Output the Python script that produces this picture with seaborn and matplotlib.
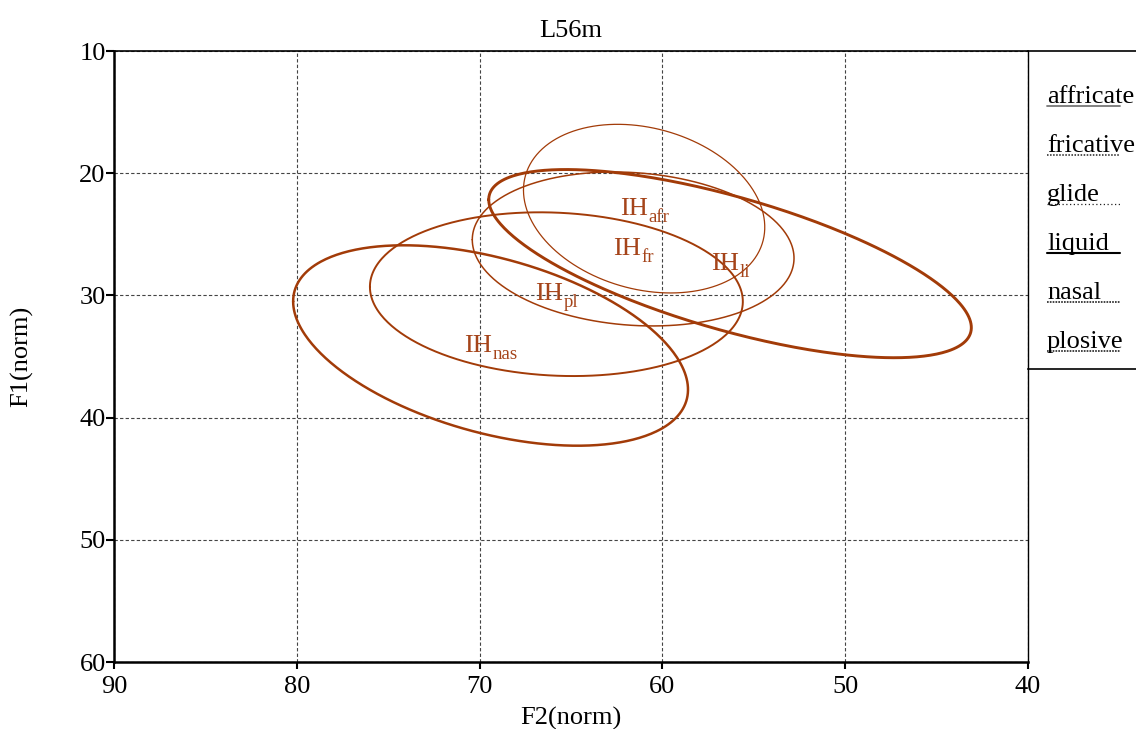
import numpy as np
import pandas as pd
import matplotlib
matplotlib.use("Agg")
import matplotlib.pyplot as plt
import matplotlib.transforms as mtransforms
import seaborn as sns

# ---------------- data ----------------
title = "L56m"
x_label = "F2(norm)"
y_label = "F1(norm)"
x_ticks = [90, 80, 70, 60, 50, 40]
y_ticks = [10, 20, 30, 40, 50, 60]

legend_categories = ["affricate", "fricative", "glide", "liquid", "nasal", "plosive"]

ellipse_codes = ["afr", "fr", "li", "nas", "pl"]
center_f2 = [61.0, 61.6, 56.3, 69.4, 65.8]
center_f1 = [22.9, 26.2, 27.4, 34.1, 29.9]
radius_f2 = [6.6, 8.8, 13.2, 10.8, 10.2]
radius_f1 = [6.9, 6.3, 7.7, 8.2, 6.7]
tilt = [-0.22, -0.12, -0.68, -0.44, -0.09]

# ---------------- style ----------------
sns.set_theme(style="white")
plt.rcParams["font.family"] = ["Liberation Serif", "DejaVu Serif"]
for key in ["text.color", "axes.labelcolor", "xtick.color", "ytick.color"]:
    plt.rcParams[key] = "black"

ell_color = "#A23B08"
lab_color = "#A5441A"
ell_widths = {"afr": 0.9, "fr": 1.1, "li": 2.1, "nas": 1.8, "pl": 1.4}
FS = 19
SUB_FS = 13.5

fig = plt.figure(figsize=(11.36, 7.29), dpi=100)
W, H = 1136, 729
ax = fig.add_axes([114 / W, 1 - 662 / H, (1028 - 114) / W, (662 - 51) / H])

# ellipse outlines built from the read parameters
t = np.linspace(0, 2 * np.pi, 400)
rows = []
for code, c2, c1, r2, r1, s in zip(ellipse_codes, center_f2, center_f1,
                                   radius_f2, radius_f1, tilt):
    phi = np.arcsin(s)
    f2 = c2 + r2 * np.cos(t)
    f1 = c1 + r1 * np.sin(t + phi)
    rows.append(pd.DataFrame({"F2": f2, "F1": f1, "cat": code}))
df = pd.concat(rows, ignore_index=True)

for code in ellipse_codes:
    sub = df[df["cat"] == code]
    sns.lineplot(data=sub, x="F2", y="F1", sort=False, estimator=None,
                 color=ell_color, linewidth=ell_widths[code], ax=ax, legend=False)

ax.set_xlim(90, 40)
ax.set_ylim(60, 10)

# labels "IH" + subscript, centred on the ellipse centre
renderer = fig.canvas.get_renderer()
for code, c2, c1 in zip(ellipse_codes, center_f2, center_f1):
    ih = ax.text(c2, c1, "IH", color=lab_color, fontsize=FS,
                 ha="center", va="center", zorder=5)
    sb = ax.annotate(code, xy=(1.0, 0.0), xycoords=ih, xytext=(0.5, -1.5),
                     textcoords="offset points", color=lab_color, fontsize=SUB_FS,
                     ha="left", va="baseline", zorder=5)
    w = sb.get_window_extent(renderer).width
    ih.set_transform(ax.transData + mtransforms.Affine2D().translate(-w / 2, 0))

ax.set_xticks(x_ticks)
ax.set_yticks(y_ticks)
ax.set_xticklabels([str(v) for v in x_ticks])
ax.set_yticklabels([str(v) for v in y_ticks])
ax.grid(True, linestyle=(0, (3, 2)), color="#444444", linewidth=0.8)
ax.set_axisbelow(True)

ax.tick_params(axis="y", which="major", direction="out", length=6, width=1.5,
               labelsize=FS, pad=0, left=True)
ax.tick_params(axis="x", which="major", direction="out", length=5, width=1.5,
               labelsize=FS, pad=5, bottom=True)
ax.set_xlabel(x_label, fontsize=FS, va="center")
ax.xaxis.set_label_coords(0.5, -(718 - 662) / 611)
ax.set_ylabel(y_label, fontsize=FS, va="center")
ax.yaxis.set_label_coords((22 - 114) / 914, 0.5)
ax.set_title(title, fontsize=FS, pad=10)

for side in ["left", "bottom"]:
    ax.spines[side].set_linewidth(1.8)
    ax.spines[side].set_color("black")
ax.spines["top"].set_linewidth(1.2)
ax.spines["top"].set_color("black")
ax.spines["right"].set_linewidth(1.0)
ax.spines["right"].set_color("black")

# ---------------- legend panel ----------------
lax = fig.add_axes([1028 / W, 1 - 369 / H, 0.2, (369 - 51) / H])
lax.set_xlim(0, 0.2 * W)
lax.set_ylim(318, 0)
lax.set_xticks([])
lax.set_yticks([])
lax.patch.set_alpha(0)
lax.spines["right"].set_visible(False)
lax.spines["left"].set_visible(False)
lax.spines["top"].set_linewidth(1.2)
lax.spines["bottom"].set_linewidth(1.2)
lax.spines["top"].set_color("black")
lax.spines["bottom"].set_color("black")

legend_styles = {
    "affricate": dict(color="#777777", linestyle="-", linewidth=1.3),
    "fricative": dict(color="#222222", linestyle=(0, (1, 1)), linewidth=1.1),
    "glide": dict(color="#222222", linestyle=(0, (1, 2)), linewidth=0.9),
    "liquid": dict(color="black", linestyle="-", linewidth=1.5),
    "nasal": dict(color="#222222", linestyle=(0, (1, 0.7)), linewidth=1.2),
    "plosive": dict(color="#222222", linestyle=(0, (1, 0.7)), linewidth=1.2),
}
for i, name in enumerate(legend_categories):
    base = 52 + 49 * i
    lax.text(19, base, name, fontsize=FS, ha="left", va="baseline", color="black")
    lax.plot([19, 92], [base + 3, base + 3], **legend_styles[name])

fig.savefig("out.png", dpi=100)
